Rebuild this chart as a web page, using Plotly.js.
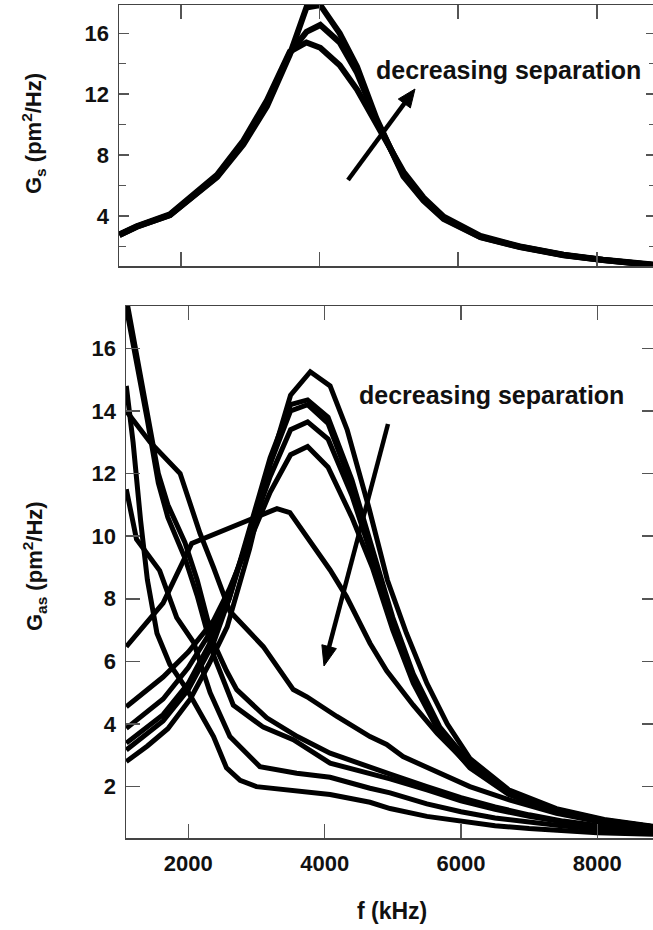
<!DOCTYPE html>
<html>
<head>
<meta charset="utf-8">
<script src="https://cdn.plot.ly/plotly-3.0.1.min.js"></script>
<style>
  html, body { margin: 0; padding: 0; overflow: hidden; background: #ffffff; }
  #chart { width: 660px; height: 930px; }
</style>
</head>
<body>
<div id="chart"></div>
<script>
// ---- symmetric-mode spectra G_s(f), three separations ----
const topFreq = [1110, 1360, 1840, 2180, 2520, 2900, 3240, 3570, 3810, 4010, 4290, 4540, 4820, 5210, 5500, 5790, 6320, 6890, 7520, 8090, 8860];
const gsSmallSep  = [2.75, 3.29, 4.06, 5.26, 6.55, 8.7, 11.2, 14.6, 17.7, 17.85, 16.0, 13.8, 10.4, 6.6, 5.0, 3.8, 2.6, 1.95, 1.42, 1.1, 0.75];
const gsMidSep    = [2.75, 3.29, 4.06, 5.28, 6.6, 8.8, 11.4, 14.7, 16.1, 16.55, 15.4, 13.4, 10.3, 6.7, 5.05, 3.85, 2.62, 1.97, 1.43, 1.1, 0.76];
const gsLargeSep  = [2.78, 3.32, 4.1, 5.35, 6.7, 8.95, 11.6, 14.8, 15.4, 15.05, 13.9, 12.3, 10.0, 6.9, 5.2, 3.95, 2.68, 2.0, 1.45, 1.12, 0.78];

// ---- antisymmetric-mode spectra G_as(f) ----
// resonant curves
const peakFreq1 = [1090, 1400, 1700, 2030, 2300, 2570, 2900, 3200, 3500, 3790, 4080, 4330, 4650, 4920, 5200, 5500, 5800, 6130, 6700, 7400, 8100, 8870];
const gasPeak1  = [2.8, 3.3, 3.85, 4.8, 5.9, 7.1, 9.6, 12.3, 14.5, 15.25, 14.8, 13.4, 10.9, 8.6, 6.9, 5.3, 4.0, 2.9, 1.9, 1.3, 0.95, 0.72];
const peakFreq  = [1090, 1630, 2000, 2370, 2600, 2900, 3200, 3500, 3750, 4050, 4400, 4700, 5000, 5300, 5690, 6130, 6700, 7400, 8100, 8870];
const gasPeak2  = [3.17, 4.1, 5.1, 6.6, 8.0, 10.3, 12.5, 14.2, 14.35, 13.8, 11.8, 9.6, 7.4, 5.6, 3.9, 2.75, 1.85, 1.27, 0.93, 0.7];
const gasPeak3  = [3.39, 4.3, 5.3, 6.8, 8.0, 10.2, 12.3, 14.0, 14.2, 13.6, 11.6, 9.5, 7.3, 5.5, 3.85, 2.7, 1.82, 1.25, 0.92, 0.7];
const gasPeak4  = [3.86, 4.8, 5.8, 7.1, 8.2, 10.0, 11.9, 13.4, 13.65, 13.1, 11.3, 9.3, 7.2, 5.4, 3.8, 2.68, 1.8, 1.23, 0.91, 0.69];
const gasPeak5  = [4.55, 5.5, 6.3, 7.3, 8.3, 9.9, 11.4, 12.6, 12.86, 12.2, 10.6, 9.0, 7.0, 5.3, 3.7, 2.6, 1.75, 1.2, 0.9, 0.68];
const peakFreq6 = [1090, 1630, 2050, 2760, 3300, 3490, 4080, 4320, 4665, 4910, 5300, 5650, 6130, 6700, 7400, 8100, 8870];
const gasPeak6  = [6.47, 7.86, 9.77, 10.41, 10.88, 10.75, 8.92, 8.07, 6.58, 5.7, 4.6, 3.7, 2.65, 1.8, 1.25, 0.93, 0.7];

// overdamped curves (decaying from low frequency)
const decayFreqE = [1090, 1440, 1880, 2170, 2370, 2610, 3100, 3540, 3740, 4180, 4665, 4910, 5150, 5640, 6130, 6720, 7400, 8100, 8870];
const gasDecayE  = [14.0, 13.0, 12.0, 10.1, 9.0, 7.6, 6.47, 5.1, 4.87, 4.24, 3.6, 3.35, 2.96, 2.5, 2.0, 1.57, 1.15, 0.85, 0.62];
const decayFreqD = [1090, 1280, 1400, 1560, 1700, 1950, 2130, 2370, 2560, 2710, 3150, 3600, 4080, 4665, 4960, 5500, 6000, 6500, 7000, 7500, 8000, 8870];
const gasDecayD  = [17.6, 15.4, 13.9, 12.0, 11.0, 9.8, 8.6, 6.6, 5.7, 5.1, 4.2, 3.6, 3.07, 2.6, 2.4, 2.0, 1.65, 1.35, 1.1, 0.9, 0.76, 0.6];
const decayFreqC = [1090, 1280, 1400, 1560, 1700, 1950, 2130, 2370, 2560, 2660, 3100, 3540, 4080, 4665, 4960, 5500, 6000, 6500, 7000, 7500, 8000, 8870];
const gasDecayC  = [17.3, 15.2, 13.7, 11.7, 10.6, 9.3, 8.1, 6.2, 5.2, 4.6, 3.9, 3.5, 2.75, 2.42, 2.25, 1.9, 1.55, 1.28, 1.05, 0.87, 0.73, 0.58];
const decayFreqB = [1090, 1240, 1580, 1700, 1830, 2080, 2320, 2610, 3050, 3590, 4080, 4665, 4960, 5500, 6000, 6500, 7000, 7500, 8000, 8870];
const gasDecayB  = [11.5, 9.9, 8.9, 8.2, 7.4, 6.6, 5.0, 3.6, 2.64, 2.43, 2.3, 1.95, 1.8, 1.45, 1.2, 1.0, 0.85, 0.74, 0.65, 0.55];
const decayFreqA = [1090, 1190, 1300, 1400, 1540, 1730, 1980, 2170, 2370, 2560, 2760, 3000, 3440, 4080, 4665, 4960, 5500, 6000, 6500, 7000, 7500, 8000, 8870];
const gasDecayA  = [14.8, 13.0, 10.5, 8.6, 6.9, 5.9, 5.1, 4.4, 3.6, 2.6, 2.2, 2.0, 1.9, 1.75, 1.5, 1.3, 1.05, 0.88, 0.75, 0.66, 0.58, 0.53, 0.48];

const W = 660, H = 930;
const FONT = 'Liberation Sans, Arial, Helvetica, sans-serif';
const px = v => v / W;
const py = v => 1 - v / H;

function curve(x, y, xa, ya, w) {
  return { x: x, y: y, xaxis: xa, yaxis: ya, type: 'scatter', mode: 'lines',
           line: { color: '#000000', width: w }, hoverinfo: 'skip', showlegend: false };
}

// Arrow drawn as a shaft plus a filled head, given tail and tip in page pixels.
function arrowShapes(tx, ty, hx, hy, headLen, headHalf, width) {
  const dx = hx - tx, dy = hy - ty, len = Math.hypot(dx, dy);
  const ux = dx / len, uy = dy / len, nx = -uy, ny = ux;
  const bx = hx - headLen * ux, by = hy - headLen * uy;
  const p = (x, y) => px(x).toFixed(5) + ',' + py(y).toFixed(5);
  return [
    { type: 'line', xref: 'paper', yref: 'paper',
      x0: px(tx), y0: py(ty), x1: px(bx + ux * 2), y1: py(by + uy * 2),
      line: { color: '#000000', width: width } },
    { type: 'path', xref: 'paper', yref: 'paper',
      path: 'M' + p(hx, hy) + ' L' + p(bx + headHalf * nx, by + headHalf * ny) +
            ' L' + p(bx - headHalf * nx, by - headHalf * ny) + ' Z',
      fillcolor: '#000000', line: { color: '#000000', width: 1 } }
  ];
}

const traces = [
  curve(topFreq, gsLargeSep, 'x', 'y', 6),
  curve(topFreq, gsMidSep, 'x', 'y', 6),
  curve(topFreq, gsSmallSep, 'x', 'y', 6),
  curve(peakFreq1, gasPeak1, 'x2', 'y2', 5),
  curve(peakFreq, gasPeak2, 'x2', 'y2', 5),
  curve(peakFreq, gasPeak3, 'x2', 'y2', 5),
  curve(peakFreq, gasPeak4, 'x2', 'y2', 5),
  curve(peakFreq, gasPeak5, 'x2', 'y2', 5),
  curve(peakFreq6, gasPeak6, 'x2', 'y2', 5),
  curve(decayFreqE, gasDecayE, 'x2', 'y2', 5),
  curve(decayFreqD, gasDecayD, 'x2', 'y2', 5),
  curve(decayFreqC, gasDecayC, 'x2', 'y2', 5),
  curve(decayFreqB, gasDecayB, 'x2', 'y2', 5),
  curve(decayFreqA, gasDecayA, 'x2', 'y2', 5)
];

const tickFont = { family: FONT, size: 22, color: '#111111', weight: 'bold' };
const axisCommon = {
  showgrid: false, zeroline: false, showline: true, linecolor: '#444444', linewidth: 1.5,
  mirror: 'ticks', ticks: 'inside', tickcolor: '#555555', tickwidth: 1.5,
  tickfont: tickFont, fixedrange: true
};

const layout = {
  width: W, height: H,
  margin: { l: 0, r: 0, t: 0, b: 0 },
  paper_bgcolor: '#ffffff', plot_bgcolor: '#ffffff',
  showlegend: false,
  xaxis: Object.assign({}, axisCommon, {
    domain: [px(119), px(656)], anchor: 'y', range: [1105, 8854],
    tick0: 0, dtick: 2000, ticklen: 14, showticklabels: false
  }),
  yaxis: Object.assign({}, axisCommon, {
    domain: [py(266), py(5)], anchor: 'x', range: [0.71, 17.86],
    tick0: 0, dtick: 4, ticklen: 10, ticklabelstandoff: 4,
    minor: { dtick: 2, tick0: 0, ticks: 'inside', ticklen: 7, tickcolor: '#555555', tickwidth: 1.5 }
  }),
  xaxis2: Object.assign({}, axisCommon, {
    domain: [px(126), px(656)], anchor: 'y2', range: [1086, 8861],
    tick0: 0, dtick: 2000, ticklen: 14, ticklabelstandoff: 5
  }),
  yaxis2: Object.assign({}, axisCommon, {
    domain: [py(838), py(306)], anchor: 'x2', range: [0.36, 17.35],
    tick0: 0, dtick: 2, ticklen: 14, ticklabelstandoff: 4
  }),
  shapes: [].concat(
    arrowShapes(348, 180, 415, 89, 18, 7.5, 4.5),
    arrowShapes(388, 424, 324, 666, 20, 7.5, 4.5)
  ),
  annotations: [
    { xref: 'paper', yref: 'paper', x: px(34), y: py(134), textangle: -90,
      text: 'G<sub>s</sub> (pm<sup>2</sup>/Hz)', showarrow: false,
      xanchor: 'center', yanchor: 'middle',
      font: { family: FONT, size: 22, color: '#111111', weight: 'bold' } },
    { xref: 'paper', yref: 'paper', x: px(34), y: py(566), textangle: -90,
      text: 'G<sub>as</sub> (pm<sup>2</sup>/Hz)', showarrow: false,
      xanchor: 'center', yanchor: 'middle',
      font: { family: FONT, size: 22, color: '#111111', weight: 'bold' } },
    { xref: 'paper', yref: 'paper', x: px(392), y: py(911),
      text: 'f (kHz)', showarrow: false, xanchor: 'center', yanchor: 'middle',
      font: { family: FONT, size: 23, color: '#111111', weight: 'bold' } },
    { xref: 'paper', yref: 'paper', x: px(508), y: py(70),
      text: 'decreasing separation', showarrow: false, xanchor: 'center', yanchor: 'middle',
      font: { family: FONT, size: 25, color: '#111111', weight: 'bold' } },
    { xref: 'paper', yref: 'paper', x: px(491), y: py(395),
      text: 'decreasing separation', showarrow: false, xanchor: 'center', yanchor: 'middle',
      font: { family: FONT, size: 25, color: '#111111', weight: 'bold' } }
  ]
};

Plotly.newPlot('chart', traces, layout, { staticPlot: true, displayModeBar: false }).then(function (gd) {
  // drop the empty placeholder text nodes (unused titles) left in the svg
  gd.querySelectorAll('text').forEach(function (t) {
    if (!t.textContent.trim()) t.remove();
  });
});
</script>
</body>
</html>
